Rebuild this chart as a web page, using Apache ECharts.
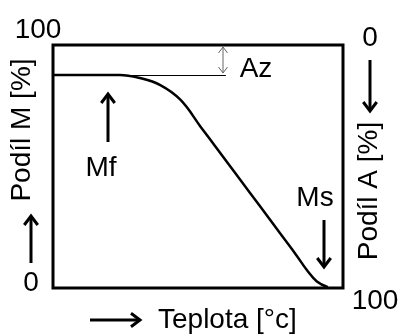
<!DOCTYPE html>
<html>
<head>
<meta charset="utf-8">
<script src="https://cdn.jsdelivr.net/npm/echarts@6/dist/echarts.min.js"></script>
<style>
  html, body { margin: 0; padding: 0; background: #fff; }
  #chart { width: 401px; height: 336px; }
</style>
</head>
<body>
<div id="chart"></div>
<script>
// teplota (0..100 of the axis) and podil martenzitu [%]
var teplota = [0, 23, 30, 37, 44, 51, 56, 64.5, 71.4, 78.3, 84.1, 87.6, 91, 94.8];
var podilM = [87.7, 87.7, 86.4, 83.5, 77.4, 66.2, 58.2, 44.6, 33.6, 22.5, 13.2, 7.3, 2.7, 0.3];
// level of the Az line and where it ends
var azLevel = 87.7;
var azEnd = 59.6;

var font = "28px 'Liberation Sans', Arial, sans-serif";

function txt(s, x, y, rot, align) {
  return {
    type: "text",
    x: x,
    y: y,
    rotation: rot || 0,
    style: {
      text: s,
      x: 0,
      y: 0,
      font: font,
      fill: "#000",
      align: align || "center",
      verticalAlign: "middle"
    }
  };
}

// arrow from (x1,y1) to (x2,y2), head at the second point
function arrow(x1, y1, x2, y2, w, head, color) {
  var dx = x2 - x1, dy = y2 - y1;
  var len = Math.sqrt(dx * dx + dy * dy);
  var ux = dx / len, uy = dy / len;
  var bx = x2 - ux * head, by = y2 - uy * head;
  return [
    { type: "line", shape: { x1: x1, y1: y1, x2: x2, y2: y2 },
      style: { stroke: color, lineWidth: w } },
    { type: "polyline",
      shape: { points: [[bx - uy * head * 0.75, by + ux * head * 0.75], [x2, y2], [bx + uy * head * 0.75, by - ux * head * 0.75]] },
      style: { stroke: color, lineWidth: w, fill: null } }
  ];
}

var graphics = [
  txt("100", 38, 30),
  txt("0", 31, 283),
  txt("0", 370, 38),
  txt("100", 375, 301),
  txt("Podíl M [%]", 22, 130, Math.PI / 2),
  txt("Podíl A [%]", 369, 191, Math.PI / 2),
  txt("Mf", 101, 168),
  txt("Ms", 315, 198),
  txt("Az", 256, 69),
  txt("Teplota [°c]", 158, 320, 0, "left")
];
graphics = graphics
  .concat(arrow(31, 263, 31, 216, 3, 9, "#000"))
  .concat(arrow(108, 142, 108, 94, 3, 9, "#000"))
  .concat(arrow(370, 60, 370, 111, 3, 9, "#000"))
  .concat(arrow(324, 220, 324, 267, 3, 9, "#000"))
  .concat(arrow(90, 320, 140, 320, 3, 9, "#000"))
  .concat(arrow(223, 60, 223, 47, 1, 6, "#666"))
  .concat(arrow(223, 60, 223, 73, 1, 6, "#666"));

var chart = echarts.init(document.getElementById("chart"));
chart.setOption({
  animation: false,
  grid: {
    left: 53, top: 45, right: 58, bottom: 48,
    show: true, borderWidth: 3, borderColor: "#000"
  },
  xAxis: {
    type: "value", min: 0, max: 100,
    axisLine: { show: false }, axisTick: { show: false },
    axisLabel: { show: false }, splitLine: { show: false }
  },
  yAxis: {
    type: "value", min: 0, max: 100,
    axisLine: { show: false }, axisTick: { show: false },
    axisLabel: { show: false }, splitLine: { show: false }
  },
  series: [{
    type: "line",
    data: teplota.map(function (t, i) { return [t, podilM[i]]; }),
    smooth: 0.4,
    symbol: "none",
    lineStyle: { color: "#000", width: 2.5 },
    markLine: {
      silent: true,
      symbol: "none",
      label: { show: false },
      lineStyle: { color: "#000", width: 1, type: "solid" },
      data: [[{ coord: [0, azLevel] }, { coord: [azEnd, azLevel] }]]
    }
  }],
  graphic: graphics
});
</script>
</body>
</html>
